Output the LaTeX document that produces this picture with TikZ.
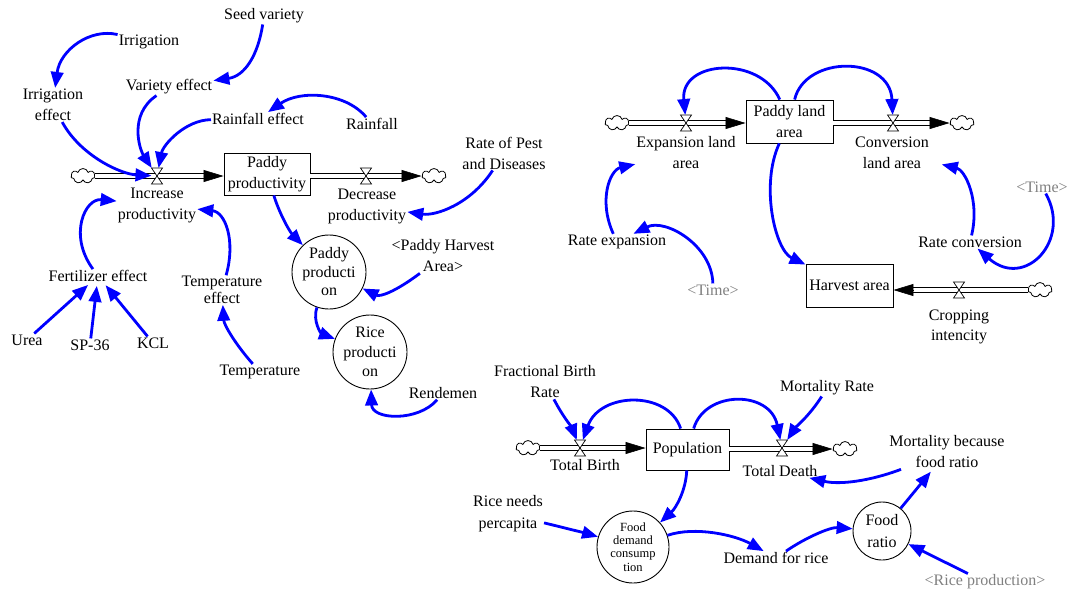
\documentclass[tikz,border=0pt]{standalone}
\usepackage{fontspec}
\setmainfont{Liberation Serif}
\usetikzlibrary{arrows.meta,shapes.symbols,calc}
\definecolor{linkblue}{RGB}{0,0,255}
\definecolor{shadowgray}{RGB}{128,128,128}
\tikzset{
  lbl/.style={align=center, inner sep=1pt, font=\fontsize{16}{21}\selectfont},
  shadowlbl/.style={lbl, text=shadowgray},
  stockbox/.style={draw, line width=0.9pt, minimum width=86pt, minimum height=42pt, align=center, inner sep=1pt, font=\fontsize{16}{21}\selectfont},
  auxcirc/.style={draw, circle, line width=0.9pt, inner sep=0pt, align=center},
  link/.style={draw=linkblue, line width=2.8pt, -{Triangle[length=16pt,width=12.5pt]}},
  pipe/.style={draw=black, double=white, double distance=3.6pt, line width=0.9pt},
  pipetip/.style={-{Triangle[length=20pt,width=12pt]}, line width=0.6pt, draw=black},
  valvept/.style={minimum width=11pt, minimum height=16pt, inner sep=0pt, outer sep=0pt},
  valveshape/.style={draw=black, fill=white, line width=0.7pt},
  sink/.style={cloud, draw, cloud puffs=7, aspect=1.6, minimum width=24pt, minimum height=15pt, inner sep=0pt, line width=0.8pt},
}
\newcommand\drawvalve[1]{\filldraw[valveshape] (#1.north west) -- (#1.north east) -- (#1.south west) -- (#1.south east) -- cycle;}
\begin{document}
\begin{tikzpicture}[x=1pt,y=-1pt]
\useasboundingbox (0,0) rectangle (1070,592);
% ---------------- top-left: paddy productivity ----------------
\node[sink] (c1) at (83,176) {};
\node[valvept] (v1) at (157,176) {};
\node[lbl] (ip) at (157,205) {Increase\\productivity};
\node[stockbox] (pp) at (267,174) {Paddy\\productivity};
\node[valvept] (v2) at (366,176) {};
\node[lbl] (dp) at (367,206) {Decrease\\productivity};
\node[sink] (c2) at (434,176) {};
\node[lbl] (sv) at (264,16) {Seed variety};
\node[lbl] (irr) at (149,42) {Irrigation};
\node[lbl] (ie) at (53,105) {Irrigation\\effect};
\node[lbl] (ve) at (169,87) {Variety effect};
\node[lbl] (re) at (258,119) {Rainfall effect};
\node[lbl] (rf) at (372,124) {Rainfall};
\node[lbl] (rpd) at (504,153) {Rate of Pest\\and Diseases};
\node[lbl] (fe) at (98,276) {Fertilizer effect};
\node[lbl, font=\fontsize{16}{16.5}\selectfont] (te) at (222,290) {Temperature\\effect};
\node[lbl] (urea) at (27,340) {Urea};
\node[lbl] (sp) at (90,345) {SP-36};
\node[lbl] (kcl) at (153,343) {KCL};
\node[lbl] (temp) at (260,372) {Temperature};
\node[auxcirc, minimum size=74pt, font=\fontsize{16}{18.5}\selectfont] (pprod) at (329,272) {Paddy\\producti\\on};
\node[auxcirc, minimum size=74pt, font=\fontsize{16}{19.5}\selectfont] (rprod) at (370,352) {Rice\\producti\\on};
\node[lbl] (pha) at (443,256) {<Paddy Harvest\\Area>};
\node[lbl] (rend) at (443,393) {Rendemen};
% pipes
\draw[pipe, shorten >=18pt] (c1.east) -- (c1.east -| pp.west);
\draw[pipetip] ($(c1.east -| pp.west)+(-20,0)$) -- (c1.east -| pp.west);
\draw[pipe, shorten >=18pt] (pp.east |- c2.west) -- (c2.west);
\draw[pipetip] ($(c2.west)+(-20,0)$) -- (c2.west);
\drawvalve{v1}
\drawvalve{v2}
% links
\draw[link] (sv) .. controls (258,55) and (245,76) .. (ve);
\draw[link] (irr) .. controls (90,28) and (60,50) .. (ie);
\draw[link] (ie) .. controls (80,155) and (120,174) .. (v1);
\draw[link] (ve) .. controls (128,115) and (140,150) .. (v1);
\draw[link] (re) .. controls (185,120) and (163,145) .. (v1);
\draw[link] (rf) .. controls (345,92) and (300,90) .. (re);
\draw[link] (fe) .. controls (68,235) and (85,198) .. (ip);
\draw[link] (te) .. controls (236,240) and (225,212) .. (ip);
\draw[link, shorten >=3pt] (urea) -- (fe);
\draw[link, shorten >=3pt] (sp) -- (fe);
\draw[link, shorten >=3pt] (kcl) -- (fe);
\draw[link] (temp) .. controls (236,345) and (224,325) .. (te);
\draw[link] (pp) .. controls (280,215) and (290,232) .. (pprod);
\draw[link] (rpd) .. controls (470,205) and (435,216) .. (dp);
\draw[link] (pha) .. controls (395,292) and (380,297) .. (pprod);
\draw[link] (pprod) .. controls (312,322) and (322,334) .. (rprod);
\draw[link] (rend) .. controls (418,422) and (372,420) .. (rprod);
% ---------------- top-right: land ----------------
\node[sink] (c3) at (617,123) {};
\node[valvept] (v3) at (686,123) {};
\node[lbl] (ela) at (686,152.5) {Expansion land\\area};
\node[stockbox, minimum width=87pt, minimum height=43pt] (pla) at (789.5,121.5) {Paddy land\\area};
\node[valvept] (v4) at (893,123) {};
\node[lbl] (cla) at (892,152.5) {Conversion\\land area};
\node[sink] (c4) at (962,123) {};
\node[stockbox, minimum width=87pt, minimum height=43pt] (ha) at (849.5,285.5) {Harvest area};
\node[valvept] (v5) at (959,290) {};
\node[lbl, font=\fontsize{16}{20}\selectfont] (crop) at (959,327) {Cropping\\intencity};
\node[sink] (c5) at (1040,290) {};
\node[lbl] (rexp) at (617,242) {Rate expansion};
\node[shadowlbl] (time1) at (713,290) {<Time>};
\node[lbl] (rconv) at (970,242) {Rate conversion};
\node[shadowlbl] (time2) at (1042,187) {<Time>};
\draw[pipe, shorten >=18pt] (c3.east) -- (c3.east -| pla.west);
\draw[pipetip] ($(c3.east -| pla.west)+(-20,0)$) -- (c3.east -| pla.west);
\draw[pipe, shorten >=18pt] (pla.east |- c4.west) -- (c4.west);
\draw[pipetip] ($(c4.west)+(-20,0)$) -- (c4.west);
\draw[pipe, shorten >=18pt] (c5.west) -- (c5.west -| ha.east);
\draw[pipetip] ($(c5.west -| ha.east)+(20,0)$) -- (c5.west -| ha.east);
\drawvalve{v3}
\drawvalve{v4}
\drawvalve{v5}
\draw[link] (pla) .. controls (760,55) and (680,60) .. (v3);
\draw[link] (pla) .. controls (805,55) and (890,55) .. (v4);
\draw[link] (pla) .. controls (760,185) and (775,250) .. (ha);
\draw[link] (rexp) .. controls (598,200) and (610,170) .. (ela);
\draw[link] (time1) .. controls (712,245) and (665,218) .. (rexp);
\draw[link, shorten >=12pt] (rconv) .. controls (980,200) and (965,170) .. (cla);
\draw[link] (time2) .. controls (1072,240) and (1025,290) .. (rconv);
% ---------------- bottom: population ----------------
\node[sink] (c6) at (528,448) {};
\node[valvept] (v6) at (580,448) {};
\node[lbl] (tb) at (585,465) {Total Birth};
\node[stockbox, minimum width=83pt, minimum height=41pt] (pop) at (687.5,449.5) {Population};
\node[valvept] (v7) at (782,448) {};
\node[lbl] (td) at (780,471) {Total Death};
\node[sink] (c7) at (845,449) {};
\node[lbl] (fbr) at (545,382) {Fractional Birth\\Rate};
\node[lbl] (mr) at (827,388) {Mortality Rate};
\node[lbl] (mbfr) at (947,452) {Mortality because\\food ratio};
\node[lbl, font=\fontsize{16}{22}\selectfont] (rnp) at (508,514) {Rice needs\\percapita};
\node[auxcirc, minimum size=72pt, font=\fontsize{12.5}{13.2}\selectfont] (fdc) at (633,547) {Food\\demand\\consump\\tion};
\node[lbl] (dfr) at (776,558) {Demand for rice};
\node[auxcirc, minimum size=58pt, font=\fontsize{16}{22}\selectfont] (fr) at (882,531) {Food\\ratio};
\node[shadowlbl] (rp) at (985,582) {<Rice production>};
\draw[pipe, shorten >=18pt] (c6.east) -- (c6.east -| pop.west);
\draw[pipetip] ($(c6.east -| pop.west)+(-20,0)$) -- (c6.east -| pop.west);
\draw[pipe, shorten >=18pt] (pop.east |- c7.west) -- (c7.west);
\draw[pipetip] ($(c7.west)+(-20,0)$) -- (c7.west);
\drawvalve{v6}
\drawvalve{v7}
\draw[link] (fbr) .. controls (562,415) and (572,428) .. (v6);
\draw[link] (pop) .. controls (668,390) and (600,392) .. (v6);
\draw[link] (pop) .. controls (705,390) and (770,390) .. (v7);
\draw[link] (mr) .. controls (810,415) and (795,428) .. (v7);
\draw[link] (mbfr) .. controls (870,481) and (840,485) .. (td);
\draw[link] (pop) .. controls (686,490) and (676,508) .. (fdc);
\draw[link] (rnp) .. controls (565,528) and (585,533) .. (fdc);
\draw[link] (fdc) .. controls (695,526) and (735,535) .. (dfr);
\draw[link] (dfr) .. controls (805,538) and (830,527) .. (fr);
\draw[link, shorten >=3pt] (fr) -- (mbfr);
\draw[link] (rp) -- (fr);
\end{tikzpicture}
\end{document}
